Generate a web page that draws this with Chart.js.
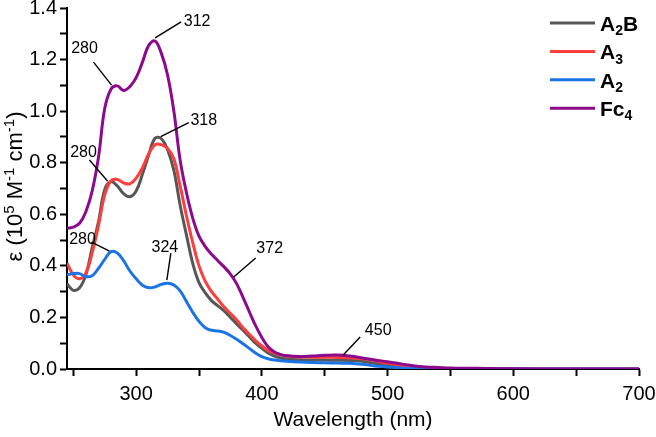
<!DOCTYPE html>
<html>
<head>
<meta charset="utf-8">
<script src="https://cdn.jsdelivr.net/npm/chart.js@4"></script>
<style>
  html, body { margin: 0; padding: 0; background: #fff; }
</style>
</head>
<body>
<canvas id="absChart" width="656" height="437"></canvas>
<script>
// wavelength grid (nm), shared by all four spectra
const wavelengths = [245, 250, 255, 260, 265, 270, 275, 280, 285, 290, 295, 300, 305, 310, 315, 320, 325, 330, 335, 340,
  345, 350, 355, 360, 365, 370, 375, 380, 385, 390, 395, 400, 405, 410, 415, 420,
  430, 440, 450, 460, 470, 480, 490, 500, 510, 520, 530, 540, 550, 560, 580, 600, 650, 700];

// epsilon (10^5 M-1 cm-1)
const a2bValues = [0.33, 0.305, 0.315, 0.365, 0.47, 0.57, 0.695, 0.727, 0.71, 0.68, 0.668, 0.69, 0.755, 0.83, 0.895, 0.893, 0.85, 0.77, 0.635, 0.52,
  0.41, 0.335, 0.295, 0.265, 0.245, 0.225, 0.2, 0.175, 0.15, 0.125, 0.1, 0.08, 0.062, 0.05, 0.043, 0.039,
  0.036, 0.035, 0.035, 0.034, 0.033, 0.03, 0.022, 0.015, 0.008, 0.004, 0.002, 0.001, 0.001, 0, 0, 0, 0, 0];
const a3Values = [0.41, 0.365, 0.35, 0.372, 0.45, 0.555, 0.675, 0.73, 0.735, 0.722, 0.718, 0.74, 0.78, 0.835, 0.87, 0.87, 0.855, 0.815, 0.71, 0.595,
  0.49, 0.4, 0.34, 0.3, 0.27, 0.24, 0.215, 0.19, 0.16, 0.135, 0.11, 0.09, 0.072, 0.062, 0.055, 0.05,
  0.047, 0.046, 0.046, 0.045, 0.044, 0.04, 0.032, 0.023, 0.015, 0.008, 0.005, 0.003, 0.002, 0.001, 0, 0, 0, 0];
const a2Values = [0.365, 0.37, 0.37, 0.358, 0.362, 0.39, 0.425, 0.455, 0.45, 0.42, 0.38, 0.35, 0.325, 0.315, 0.318, 0.328, 0.333, 0.326, 0.303, 0.262,
  0.22, 0.185, 0.16, 0.15, 0.147, 0.142, 0.13, 0.115, 0.098, 0.08, 0.062, 0.048, 0.04, 0.035, 0.032, 0.03,
  0.027, 0.025, 0.024, 0.023, 0.022, 0.018, 0.012, 0.008, 0.004, 0.002, 0.001, 0, 0, 0, 0, 0, 0, 0];
const fc4Values = [0.545, 0.55, 0.565, 0.61, 0.69, 0.82, 1.01, 1.085, 1.098, 1.08, 1.095, 1.13, 1.19, 1.255, 1.272, 1.225, 1.14, 1.0, 0.81, 0.685,
  0.585, 0.515, 0.475, 0.445, 0.42, 0.396, 0.368, 0.33, 0.278, 0.222, 0.168, 0.122, 0.086, 0.066, 0.056, 0.051,
  0.048, 0.05, 0.053, 0.054, 0.05, 0.043, 0.035, 0.028, 0.02, 0.013, 0.008, 0.006, 0.004, 0.003, 0.002, 0.001, 0, 0];

const seriesNames = ["A2B", "A3", "A2", "Fc4"];

// axis ticks
const xTicks = [250, 300, 350, 400, 450, 500, 550, 600, 650, 700];
const xTickLabels = ["", "300", "", "400", "", "500", "", "600", "", "700"];
const yTicks = [0, 0.1, 0.2, 0.3, 0.4, 0.5, 0.6, 0.7, 0.8, 0.9, 1.0, 1.1, 1.2, 1.3, 1.4];
const yTickLabels = ["0.0", "", "0.2", "", "0.4", "", "0.6", "", "0.8", "", "1.0", "", "1.2", "", "1.4"];

// peak callouts: text, wavelength, epsilon
const calloutText = ["280", "312", "318", "280", "280", "324", "372", "450"];
const calloutWl = [282, 313.5, 318, 278, 282, 326, 377.6, 464.7];
const calloutEps = [1.097, 1.28, 0.905, 0.725, 0.457, 0.333, 0.357, 0.054];

const FONT = "'Liberation Sans', Arial, sans-serif";
const colors = ["#575757", "#ff3d3d", "#1a74e6", "#8c0a8c"];
// leader offsets in px: [x0, y0, x1, y1, textX, textY]
const calloutOffsets = [
  [-2, -1, -20, -24, -29, -38],
  [2, -1, 28, -17, 44, -17],
  [2, 1, 30, -13, 45, -15],
  [-1, -1, -19, -22, -25, -29],
  [-4, 0, -22, -9, -31, -12],
  [-2, -3, 2, -30, -4, -36],
  [0, 0, 22, -19, 36, -28],
  [0, 0, 17, -18, 35, -24],
];

function toPoints(values) {
  return wavelengths.map((wl, i) => ({ x: wl, y: values[i] }));
}

// parts is a list of [text, shift] (shift: 0 normal, 1 sup, -1 sub)
function richWidth(ctx, parts, size, small, weight) {
  let w = 0;
  parts.forEach(([t, s]) => {
    ctx.font = `${weight} ${s ? small : size}px ${FONT}`;
    w += ctx.measureText(t).width;
  });
  return w;
}

function drawRich(ctx, parts, x, y, size, small, weight) {
  let cx = x;
  parts.forEach(([t, s]) => {
    ctx.font = `${weight} ${s ? small : size}px ${FONT}`;
    const dy = s === 1 ? -size * 0.38 : s === -1 ? size * 0.3 : 0;
    ctx.fillText(t, cx, y + dy);
    cx += ctx.measureText(t).width;
  });
}

const yTitleParts = [["ε (10", 0], ["5", 1], [" M", 0], ["-1", 1], [" cm", 0], ["-1", 1], [")", 0]];

const decorPlugin = {
  id: "decor",
  afterDraw(chart) {
    const ctx = chart.ctx;
    const area = chart.chartArea;
    const xs = chart.scales.x;
    const ys = chart.scales.y;
    ctx.save();
    ctx.fillStyle = "#000";
    ctx.strokeStyle = "#000";

    // y axis title with superscripts
    ctx.save();
    ctx.translate(22, (area.top + area.bottom) / 2 - 2);
    ctx.rotate(-Math.PI / 2);
    ctx.textBaseline = "alphabetic";
    const tw = richWidth(ctx, yTitleParts, 22, 15, "normal");
    drawRich(ctx, yTitleParts, -tw / 2, 0, 22, 15, "normal");
    ctx.restore();

    // callouts
    ctx.lineWidth = 1.4;
    ctx.font = `16px ${FONT}`;
    ctx.textAlign = "center";
    ctx.textBaseline = "middle";
    calloutText.forEach((txt, i) => {
      const px = xs.getPixelForValue(calloutWl[i]);
      const py = ys.getPixelForValue(calloutEps[i]);
      const o = calloutOffsets[i];
      ctx.beginPath();
      ctx.moveTo(px + o[0], py + o[1]);
      ctx.lineTo(px + o[2], py + o[3]);
      ctx.stroke();
      ctx.fillText(txt, px + o[4], py + o[5]);
    });

    // legend
    ctx.textAlign = "left";
    ctx.textBaseline = "middle";
    seriesNames.forEach((name, i) => {
      const ly = area.top + 15 + i * 28.4;
      ctx.strokeStyle = colors[i];
      ctx.lineWidth = 3;
      ctx.beginPath();
      ctx.moveTo(area.right - 89, ly);
      ctx.lineTo(area.right - 44, ly);
      ctx.stroke();
      const parts = name.split("").map(c => [c, /\d/.test(c) ? -1 : 0]);
      ctx.fillStyle = "#000";
      drawRich(ctx, parts, area.right - 39, ly + 2, 21, 14, "bold");
    });
    ctx.restore();
  },
};

const ctx = document.getElementById("absChart").getContext("2d");

new Chart(ctx, {
  type: "line",
  data: {
    datasets: [
      { label: seriesNames[0], data: toPoints(a2bValues), borderColor: colors[0], order: 4 },
      { label: seriesNames[1], data: toPoints(a3Values), borderColor: colors[1], order: 3 },
      { label: seriesNames[2], data: toPoints(a2Values), borderColor: colors[2], order: 2 },
      { label: seriesNames[3], data: toPoints(fc4Values), borderColor: colors[3], order: 1 },
    ],
  },
  options: {
    responsive: false,
    animation: false,
    layout: { padding: 0 },
    elements: {
      point: { radius: 0 },
      line: { borderWidth: 3, tension: 0.4, fill: false },
    },
    plugins: {
      legend: { display: false },
      tooltip: { enabled: false },
    },
    scales: {
      x: {
        type: "linear",
        min: 245,
        max: 700,
        border: { color: "#000", width: 2 },
        grid: { drawOnChartArea: false, tickLength: 7, tickColor: "#000", tickWidth: 2 },
        afterBuildTicks: (s) => { s.ticks = xTicks.map(v => ({ value: v })); },
        afterFit: (s) => { s.height = 68; s.paddingRight = 17; s.paddingLeft = 0; },
        ticks: {
          color: "#000",
          font: { family: FONT, size: 20 },
          maxRotation: 0,
          autoSkip: false,
          padding: 6,
          callback: (v, i) => xTickLabels[i],
        },
        title: {
          display: true,
          text: "Wavelength (nm)",
          color: "#000",
          font: { family: FONT, size: 21 },
          padding: { top: 7 },
        },
      },
      y: {
        min: 0,
        max: 1.4,
        border: { color: "#000", width: 2 },
        grid: { drawOnChartArea: false, tickLength: 7, tickColor: "#000", tickWidth: 2 },
        afterBuildTicks: (s) => { s.ticks = yTicks.map(v => ({ value: v })); },
        afterFit: (s) => { s.width = 67; s.paddingTop = 8; s.paddingBottom = 0; },
        ticks: {
          color: "#000",
          font: { family: FONT, size: 20 },
          autoSkip: false,
          padding: 3,
          callback: (v, i) => yTickLabels[i],
        },
      },
    },
  },
  plugins: [decorPlugin],
});
</script>
</body>
</html>
